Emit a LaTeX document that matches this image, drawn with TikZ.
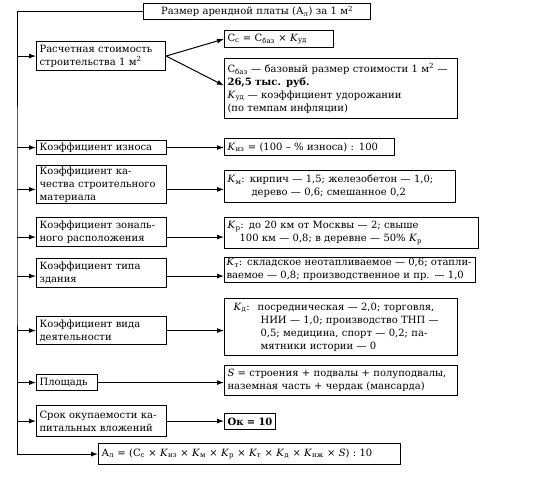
\documentclass[tikz,border=0pt]{standalone}
\usepackage{fontspec}
\setmainfont{DejaVu Serif}
\usetikzlibrary{calc,arrows.meta}
\tikzset{
	cell/.style={draw,line width=1.1pt,anchor=north west,align=left,inner xsep=3pt,inner ysep=1pt,font=\fontsize{10}{13}\selectfont},%
	link/.style={-{Latex[length=7pt,width=5pt]},line width=1pt},%
}
\def\kcoef#1{\textit{K}\textsubscript{#1}}
\def\trunkx{17}

\begin{document}
\begin{tikzpicture}[x=1pt,y=-1pt]
	\useasboundingbox (0,0) rectangle (545,498);
	% top and result
	\node[cell,align=center,text width=221pt,minimum height=16pt] (rent) at (143,3) {Размер арендной платы (А\textsubscript{л}) за 1 м\textsuperscript{2}};
	\node[cell,text width=296pt,minimum height=21pt] (result) at (98,443) {А\textsubscript{л} = (С\textsubscript{с} × \kcoef{из} × \kcoef{м} × \kcoef{р} × \kcoef{т} × \kcoef{д} × \kcoef{нж} × \textit{S}) : 10};
	\coordinate (trunk) at (\trunkx,200);
	% factors
	\node[cell,text width=123pt,minimum height=29pt] (cost) at (36,41) {Расчетная стоимость\\строительства 1 м\textsuperscript{2}};
	\node[cell,text width=124pt,minimum height=14pt] (wear) at (36,140) {Коэффициент износа};
	\node[cell,text width=124pt,minimum height=31pt] (material) at (36,165) {Коэффициент ка-\\чества строительного\\материала};
	\node[cell,text width=124pt,minimum height=29pt] (zone) at (36,217) {Коэффициент зональ-\\ного расположения};
	\node[cell,text width=124pt,minimum height=29pt] (type) at (36,258) {Коэффициент типа\\здания};
	\node[cell,text width=124pt,minimum height=28pt] (activity) at (36,316) {Коэффициент вида\\деятельности};
	\node[cell,text width=55pt,minimum height=16pt] (area) at (36,374) {Площадь};
	\node[cell,text width=124pt,minimum height=31pt] (payback) at (36,405) {Срок окупаемости ка-\\питальных вложений};
	% values
	\node[cell,text width=103pt,minimum height=17pt] (cc) at (224,30) {С\textsubscript{с} = С\textsubscript{баз} × \kcoef{уд}};
	\node[cell,text width=227pt,minimum height=60pt] (cbase) at (224,58) {С\textsubscript{баз} — базовый размер стоимости 1 м\textsuperscript{2}~—\\\textbf{26,5 тыс. руб.}\\\kcoef{уд} — коэффициент удорожании\\(по темпам инфляции)};
	\node[cell,text width=164pt,minimum height=17pt] (kwear) at (224,138) {\kcoef{из} = (100 – \% износа) : 100};
	\node[cell,text width=225pt,minimum height=32pt] (kmaterial) at (224,170) {\kcoef{м}: кирпич — 1,5; железобетон — 1,0;\\\hspace*{24pt}дерево — 0,6; смешанное 0,2};
	\node[cell,text width=248pt,minimum height=31pt] (kzone) at (224,217) {\kcoef{р}: до 20 км от Москвы — 2; свыше\\\hspace*{12pt}100 км — 0,8; в деревне — 50\% \kcoef{р}};
	\node[cell,inner xsep=2pt,text width=247pt,minimum height=22pt] (ktype) at (224,257) {\kcoef{т}: складское неотапливаемое — 0,6; отапли-\\ваемое — 0,8; производственное и пр. — 1,0};
	\node[cell,text width=227pt,minimum height=57pt] (kactivity) at (224,298) {\hspace*{6pt}\kcoef{д}:\hspace*{8pt}посредническая — 2,0; торговля,\\\hspace*{33pt}НИИ — 1,0; производство ТНП —\\\hspace*{33pt}0,5; медицина, спорт — 0,2; па-\\\hspace*{33pt}мятники истории — 0};
	\node[cell,text width=227pt,minimum height=30pt] (karea) at (224,365) {\textit{S} = строения + подвалы + полуподвалы,\\наземная часть + чердак (мансарда)};
	\node[cell,text width=45pt,minimum height=16pt] (kpayback) at (224,413) {\textbf{Ок = 10}};
	% trunk
	\draw[link] (rent.west) -| (trunk) |- (result.west);
	\foreach \f in {cost,wear,activity,area,payback}
		\draw[link] (trunk |- \f.west) -- (\f.west);
	\foreach \f in {material,zone}
		\draw[link] ([yshift=-5pt]trunk |- \f.west) -- ([yshift=-5pt]\f.west);
	\draw[link] ([yshift=-3pt]trunk |- type.west) -- ([yshift=-3pt]type.west);
	% branches
	\draw[link] (cost.east) -- (cc.west);
	\draw[link] (cost.east) -- ([yshift=3pt]cbase.west);
	\draw[link] (wear.east) -- (wear.east -| kwear.west);
	\draw[link] ([yshift=-5pt]material.east) -- ([yshift=-5pt]material.east -| kmaterial.west);
	\draw[link] ([yshift=-5pt]zone.east) -- ([yshift=-5pt]zone.east -| kzone.west);
	\draw[link] ([yshift=-3pt]type.east) -- ([yshift=-3pt]type.east -| ktype.west);
	\draw[link] (activity.east) -- (activity.east -| kactivity.west);
	\draw[link] (area.east) -- (area.east -| karea.west);
	\draw[link] (payback.east) -- (payback.east -| kpayback.west);
\end{tikzpicture}
\end{document}
